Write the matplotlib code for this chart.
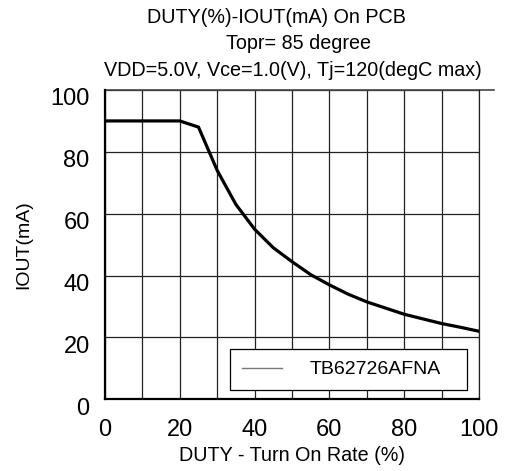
import matplotlib
matplotlib.use("Agg")
import matplotlib.pyplot as plt
from matplotlib.lines import Line2D
from matplotlib.transforms import ScaledTranslation

plt.rcParams["font.family"] = ["Liberation Sans", "DejaVu Sans"]

# ── data ────────────────────────────────────────────────────────────────
duty = [0, 5, 10, 15, 20, 25, 30, 35, 40, 45, 50, 55, 60, 65, 70, 75, 80, 85, 90, 95, 100]
iout = [90, 90, 90, 90, 90, 88, 74, 63, 55, 49, 44.5, 40.3, 37, 34, 31.5, 29.5, 27.5, 26, 24.5, 23.3, 22]
series_name = "TB62726AFNA"
x_ticks = [0, 20, 40, 60, 80, 100]
y_ticks = [0, 20, 40, 60, 80, 100]
x_grid = list(range(0, 101, 10))

title_lines = [
    "DUTY(%)-IOUT(mA) On PCB",
    "Topr= 85 degree",
    "VDD=5.0V, Vce=1.0(V), Tj=120(degC max)",
]

fig = plt.figure(figsize=(5.10, 4.71), dpi=100)
ax = fig.add_axes([0.2059, 0.1522, 0.7333, 0.6567])

ax.plot(duty, iout, color="black", lw=2.3, solid_joinstyle="miter", zorder=3)

ax.set_xlim(0, 100)
ax.set_ylim(0, 100)
ax.set_xticks(x_ticks)
ax.set_yticks(y_ticks)
ax.set_xticks(x_grid, minor=True)
ax.tick_params(which="both", length=0, labelsize=17)
ax.tick_params(axis="x", pad=14)
ax.tick_params(axis="y", pad=11)
# y labels sit a bit below their grid lines in the original
for lab in ax.get_yticklabels():
    lab.set_transform(lab.get_transform() + ScaledTranslation(0, -5 / 72, fig.dpi_scale_trans))

ax.grid(True, which="major", axis="y", color="#222222", lw=0.9)
ax.grid(True, which="both", axis="x", color="#222222", lw=0.9)
ax.set_axisbelow(True)

for side in ("left", "bottom"):
    ax.spines[side].set_linewidth(1.6)
ax.spines["right"].set_linewidth(0.9)
ax.spines["right"].set_color("#222222")
ax.spines["top"].set_visible(False)
ax.axhline(100, xmin=0, xmax=1.04, color="#444444", lw=1.2, clip_on=False)

ax.set_xlabel("DUTY - Turn On Rate (%)", fontsize=14.2, labelpad=4)
ax.set_ylabel("IOUT(mA)", fontsize=14, labelpad=13)

handle = Line2D([], [], color="#777777", lw=1.0)
leg = ax.legend([handle], [series_name], loc="lower left",
                bbox_to_anchor=(0.334, 0.030, 0.634, 0.135), mode="expand",
                borderaxespad=0, fancybox=False, framealpha=1, edgecolor="black",
                fontsize=14, handlelength=2.1, handletextpad=1.4, borderpad=0.6)
leg.get_frame().set_linewidth(0.9)

fig.text(0.543, 0.963, title_lines[0], ha="center", va="center", fontsize=14.2)
fig.text(0.586, 0.908, title_lines[1], ha="center", va="center", fontsize=14.2)
fig.text(0.575, 0.851, title_lines[2], ha="center", va="center", fontsize=14.2)

fig.savefig("out.png", dpi=100)
